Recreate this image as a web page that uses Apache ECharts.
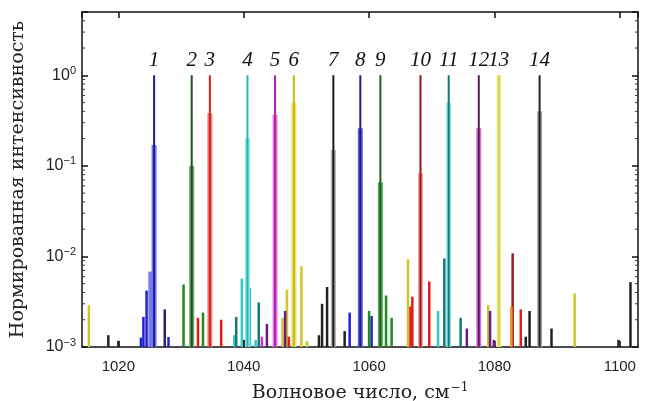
<!DOCTYPE html>
<html>
<head>
<meta charset="utf-8">
<script src="https://cdn.jsdelivr.net/npm/echarts@6/dist/echarts.min.js"></script>
<style>
  html, body { margin: 0; padding: 0; background: #fff; }
  #main { width: 651px; height: 401px; }
</style>
</head>
<body>
<div id="main"></div>
<script>
// пределы осей
var X_MIN = 1014.2, X_MAX = 1102.9;
var Y_MIN = 0.001, Y_MAX = 5;

// основные линии 1..14
var peakNames = ['1', '2', '3', '4', '5', '6', '7', '8', '9', '10', '11', '12', '13', '14'];
var peakCenters = [1025.7, 1031.7, 1034.6, 1040.6, 1045.0, 1048.0, 1054.3, 1058.6, 1061.8, 1068.2, 1072.7, 1077.5, 1080.7, 1087.2];
var peakHeights = [1, 1, 1, 1, 1, 1, 1, 1, 1, 1, 1, 1, 1, 1];
var shoulderHeights = [0.17, 0.1, 0.38, 0.2, 0.37, 0.5, 0.15, 0.26, 0.066, 0.083, 0.5, 0.26, 1, 0.4];

// слабые линии, по цветам: [волновое число, интенсивность]
var yellowLines = [[1015.3, 0.0029], [1046.2, 0.0021], [1046.9, 0.0043], [1049.2, 0.0078], [1050.1, 0.00116], [1066.2, 0.0093], [1079.0, 0.0029], [1092.8, 0.0039]];
var blackLines = [[1018.4, 0.00135], [1020.0, 0.00117], [1040.0, 0.0012], [1052.0, 0.00135], [1052.5, 0.003], [1053.3, 0.0046], [1056.1, 0.0015], [1085.0, 0.0013], [1085.6, 0.0025], [1089.1, 0.0016], [1099.8, 0.0012], [1101.7, 0.0052]];
var navyLines = [[1027.4, 0.0026]];
var blueLines = [[1023.6, 0.00127], [1024.0, 0.00215], [1024.5, 0.0042], [1028.0, 0.00129], [1056.9, 0.0024], [1060.4, 0.0022]];
var lightBlueLines = [[1025.1, 0.0068]];
var greenLines = [[1030.4, 0.0049], [1033.5, 0.0024], [1060.0, 0.0025], [1062.7, 0.0037], [1063.6, 0.0021]];
var redLines = [[1032.7, 0.0021], [1036.4, 0.002], [1047.2, 0.0013], [1066.6, 0.0028], [1066.9, 0.0036], [1069.6, 0.0053], [1084.2, 0.0026]];
var cyanLines = [[1038.5, 0.00135], [1039.7, 0.0057], [1041.0, 0.0045], [1041.9, 0.0012], [1071.0, 0.0025]];
var tealLines = [[1038.8, 0.00215], [1042.4, 0.0031], [1072.0, 0.0095], [1074.6, 0.0021]];
var magentaLines = [[1042.9, 0.0013]];
var purpleLines = [[1043.7, 0.0018], [1046.6, 0.0025], [1075.6, 0.0016], [1079.3, 0.0025], [1079.9, 0.0012]];
var darkRedLines = [[1082.9, 0.0108]];
var orangeLines = [[1082.7, 0.0028]];

// деления осей
var xTickLabels = [1020, 1040, 1060, 1080, 1100];
var minorTicks = [];
[0.001, 0.01, 0.1, 1].forEach(function (d) {
    for (var k = 2; k <= 9; k++) {
        if (d * k < Y_MAX) minorTicks.push(d * k);
    }
});

var peakLineColors = ['#1c1c9a', '#1f4f1f', '#d42020', '#1fb8b8', '#b020b0', '#c4bc10', '#1a1a1a', '#1c1c8c', '#116611', '#a01010', '#107a7a', '#5a1a5a', '#d4d050', '#222222'];
var peakBandColors = ['#7676ea', '#6aa86a', '#f08080', '#98e4e4', '#e27ee2', '#e4e070', '#b0b0b0', '#6060dc', '#5fa75f', '#f2a4a4', '#92e6e6', '#d670d6', '#f2f09c', '#a8a8a8'];

function stickSeries(data, color, width) {
    return {
        type: 'custom',
        data: data,
        clip: true,
        z: 2,
        encode: { x: 0, y: 1 },
        renderItem: function (params, api) {
            var top = api.coord([api.value(0), api.value(1)]);
            var base = api.coord([api.value(0), Y_MIN]);
            return {
                type: 'rect',
                shape: { x: top[0] - width / 2, y: top[1], width: width, height: base[1] - top[1] },
                style: { fill: color }
            };
        }
    };
}

var peakData = peakCenters.map(function (x, i) {
    return [x, peakHeights[i], shoulderHeights[i], i];
});

var peakSeries = {
    type: 'custom',
    data: peakData,
    clip: false,
    z: 3,
    encode: { x: 0, y: 1 },
    renderItem: function (params, api) {
        var i = api.value(3);
        var top = api.coord([api.value(0), api.value(1)]);
        var sh = api.coord([api.value(0), api.value(2)]);
        var base = api.coord([api.value(0), Y_MIN]);
        return {
            type: 'group',
            children: [
                { type: 'rect', shape: { x: sh[0] - 2.5, y: sh[1], width: 5, height: base[1] - sh[1] }, style: { fill: peakBandColors[i] } },
                { type: 'rect', shape: { x: top[0] - 1, y: top[1], width: 2, height: base[1] - top[1] }, style: { fill: peakLineColors[i] } },
                {
                    type: 'text',
                    x: top[0], y: top[1] - 4,
                    style: {
                        text: peakNames[i], fill: '#111',
                        font: 'italic 21px "Liberation Serif", serif',
                        align: 'center', verticalAlign: 'bottom'
                    }
                }
            ]
        };
    }
};

var minorTickSeries = {
    type: 'custom',
    data: minorTicks.map(function (v) { return [v]; }),
    clip: false,
    silent: true,
    z: 5,
    renderItem: function (params, api) {
        var l = api.coord([X_MIN, api.value(0)]);
        var r = api.coord([X_MAX, api.value(0)]);
        return {
            type: 'group',
            children: [
                { type: 'line', shape: { x1: l[0], y1: l[1], x2: l[0] + 3, y2: l[1] }, style: { stroke: '#333', lineWidth: 1 } },
                { type: 'line', shape: { x1: r[0], y1: r[1], x2: r[0] - 3, y2: r[1] }, style: { stroke: '#333', lineWidth: 1 } }
            ]
        };
    }
};

var axisLine = { lineStyle: { color: '#111', width: 1.5 } };
var tick = { inside: true, length: 6, lineStyle: { color: '#111', width: 1.5 } };

function isDecade(v) {
    var l = Math.log10(v);
    return Math.abs(l - Math.round(l)) < 1e-6;
}

var myChart = echarts.init(document.getElementById('main'));
var option = {
    animation: false,
    backgroundColor: '#fff',
    grid: { left: 82, right: 13, top: 12, bottom: 54, outerBoundsMode: 'none', containLabel: false },
    xAxis: [{
        type: 'value', min: X_MIN, max: X_MAX, position: 'bottom',
        axisLine: axisLine, axisTick: tick, splitLine: { show: false },
        axisLabel: {
            margin: 12, fontSize: 15, color: '#222', fontFamily: 'Liberation Sans, Arial, sans-serif',
            showMinLabel: false, showMaxLabel: false,
            formatter: function (v) { return xTickLabels.indexOf(Math.round(v)) >= 0 && Math.abs(v - Math.round(v)) < 1e-6 ? String(Math.round(v)) : ''; }
        },
        name: '{a|Волновое число, см}{s|−1}',
        nameLocation: 'middle', nameGap: 35,
        nameTextStyle: {
            rich: {
                a: { fontFamily: 'DejaVu Serif, serif', fontSize: 19, color: '#222' },
                s: { fontFamily: 'DejaVu Serif, serif', fontSize: 12, color: '#222', padding: [0, 0, 10, 1] }
            }
        }
    }, {
        type: 'value', min: X_MIN, max: X_MAX, position: 'top',
        axisLine: axisLine, axisTick: tick, splitLine: { show: false },
        axisLabel: { show: false }
    }],
    yAxis: [{
        type: 'log', min: Y_MIN, max: Y_MAX, position: 'left',
        axisLine: axisLine, axisTick: tick, splitLine: { show: false },
        axisLabel: {
            margin: 6, color: '#222',
            formatter: function (v) {
                if (!isDecade(v)) return '';
                var p = Math.round(Math.log10(v));
                return '{b|10}{s|' + (p < 0 ? '−' + (-p) : p) + '}';
            },
            rich: {
                b: { fontSize: 16, fontFamily: 'Liberation Sans, Arial, sans-serif', color: '#222' },
                s: { fontSize: 11, fontFamily: 'Liberation Sans, Arial, sans-serif', color: '#222', padding: [0, 0, 9, 0] }
            }
        },
        name: 'Нормированная интенсивность',
        nameLocation: 'middle', nameGap: 54,
        nameTextStyle: { fontFamily: 'DejaVu Serif, serif', fontSize: 19, color: '#222' }
    }, {
        type: 'log', min: Y_MIN, max: Y_MAX, position: 'right',
        axisLine: axisLine, axisTick: tick, splitLine: { show: false },
        axisLabel: { show: false }
    }],
    series: [
        stickSeries(lightBlueLines, '#7a7af0', 4),
        stickSeries(yellowLines, '#cfc52a', 2.5),
        stickSeries(blackLines, '#222', 2.5),
        stickSeries(navyLines, '#26266e', 2.5),
        stickSeries(blueLines, '#2020d0', 2.5),
        stickSeries(greenLines, '#1f8a1f', 2.5),
        stickSeries(redLines, '#e01c1c', 2.5),
        stickSeries(cyanLines, '#30c8c8', 2.5),
        stickSeries(tealLines, '#127878', 2.5),
        stickSeries(magentaLines, '#d030d0', 2.5),
        stickSeries(purpleLines, '#6a1a8a', 2.5),
        stickSeries(darkRedLines, '#9a1a1a', 2.5),
        stickSeries(orangeLines, '#f09020', 2.5),
        peakSeries,
        minorTickSeries
    ]
};
myChart.setOption(option);
</script>
</body>
</html>
